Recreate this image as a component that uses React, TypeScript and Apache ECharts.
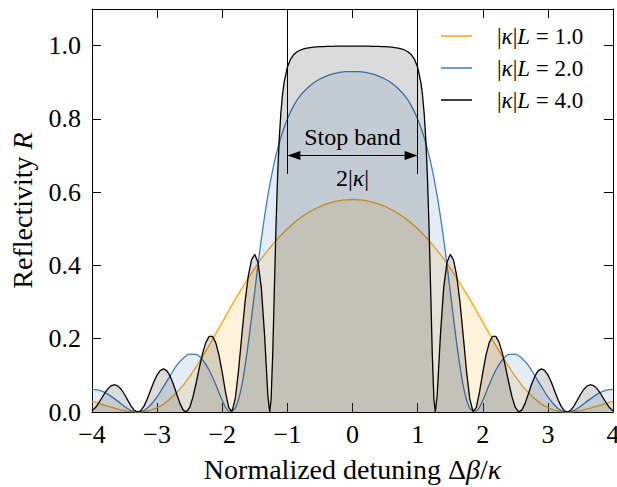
import React, { useEffect, useRef } from 'react';
import * as echarts from 'echarts';

const FONT = '"Liberation Serif", "DejaVu Serif", serif';

const xTicks = [-4, -3, -2, -1, 0, 1, 2, 3, 4];
const yTicks = [0.0, 0.2, 0.4, 0.6, 0.8, 1.0];
const seriesNames = ['|κ|L = 1.0', '|κ|L = 2.0', '|κ|L = 4.0'];
const seriesColors = ['#ffa500', '#3f7fbf', '#000000'];
const stopBandEdges = [-1, 1];

// detuning Δβ/κ for the κL = 1 and κL = 2 curves
const detuningCoarse = [
  -4.0, -3.9, -3.8, -3.7, -3.6, -3.5, -3.4, -3.3, -3.2, -3.1,
  -3.0, -2.9, -2.8, -2.7, -2.6, -2.5, -2.4, -2.3, -2.2, -2.1,
  -2.0, -1.9, -1.8, -1.7, -1.6, -1.5, -1.4, -1.3, -1.2, -1.1,
  -1.0, -0.9, -0.8, -0.7, -0.6, -0.5, -0.4, -0.3, -0.2, -0.1,
  0.0,
  0.1, 0.2, 0.3, 0.4, 0.5, 0.6, 0.7, 0.8, 0.9, 1.0,
  1.1, 1.2, 1.3, 1.4, 1.5, 1.6, 1.7, 1.8, 1.9, 2.0,
  2.1, 2.2, 2.3, 2.4, 2.5, 2.6, 2.7, 2.8, 2.9, 3.0,
  3.1, 3.2, 3.3, 3.4, 3.5, 3.6, 3.7, 3.8, 3.9, 4.0,
];

const reflectivityK1 = [
  0.029, 0.024, 0.018, 0.013, 0.008, 0.004, 0.001, 0.000, 0.001, 0.005,
  0.012, 0.022, 0.036, 0.053, 0.073, 0.097, 0.124, 0.152, 0.182, 0.214,
  0.245, 0.277, 0.308, 0.337, 0.366, 0.393, 0.418, 0.441, 0.463, 0.482,
  0.500, 0.516, 0.530, 0.542, 0.552, 0.561, 0.568, 0.573, 0.577, 0.579,
  0.580,
  0.579, 0.577, 0.573, 0.568, 0.561, 0.552, 0.542, 0.530, 0.516, 0.500,
  0.482, 0.463, 0.441, 0.418, 0.393, 0.366, 0.337, 0.308, 0.277, 0.245,
  0.214, 0.182, 0.152, 0.124, 0.097, 0.073, 0.053, 0.036, 0.022, 0.012,
  0.005, 0.001, 0.000, 0.001, 0.004, 0.008, 0.013, 0.018, 0.024, 0.029,
];

const reflectivityK2 = [
  0.062, 0.060, 0.053, 0.042, 0.029, 0.015, 0.004, 0.000, 0.004, 0.019,
  0.041, 0.070, 0.099, 0.127, 0.147, 0.158, 0.157, 0.142, 0.114, 0.075,
  0.032, 0.003, 0.010, 0.072, 0.188, 0.331, 0.472, 0.590, 0.682, 0.750,
  0.800, 0.837, 0.864, 0.883, 0.898, 0.909, 0.917, 0.923, 0.927, 0.929,
  0.929,
  0.929, 0.927, 0.923, 0.917, 0.909, 0.898, 0.883, 0.864, 0.837, 0.800,
  0.750, 0.682, 0.590, 0.472, 0.331, 0.188, 0.072, 0.010, 0.003, 0.032,
  0.075, 0.114, 0.142, 0.157, 0.158, 0.147, 0.127, 0.099, 0.070, 0.041,
  0.019, 0.004, 0.000, 0.004, 0.015, 0.029, 0.042, 0.053, 0.060, 0.062,
];

// detuning Δβ/κ for the κL = 4 curve
const detuningFine = [
  -4.0, -3.95, -3.9, -3.85, -3.8, -3.75, -3.7, -3.65, -3.6, -3.55,
  -3.5, -3.45, -3.4, -3.35, -3.3, -3.25, -3.2, -3.15, -3.1, -3.05,
  -3.0, -2.95, -2.9, -2.85, -2.8, -2.75, -2.7, -2.65, -2.6, -2.55,
  -2.5, -2.45, -2.4, -2.35, -2.3, -2.25, -2.2, -2.15, -2.1, -2.05,
  -2.0, -1.95, -1.9, -1.85, -1.8, -1.75, -1.7, -1.65, -1.6, -1.55,
  -1.5, -1.45, -1.4, -1.35, -1.3, -1.2716, -1.25, -1.225, -1.2, -1.175,
  -1.15, -1.125, -1.1, -1.075, -1.05, -1.0, -0.95, -0.9, -0.85, -0.8,
  -0.75, -0.7, -0.65, -0.6, -0.55, -0.5, -0.45, -0.4, -0.35, -0.3,
  -0.25, -0.2, -0.15, -0.1, -0.05,
  0.0,
  0.05, 0.1, 0.15, 0.2, 0.25, 0.3, 0.35, 0.4, 0.45, 0.5,
  0.55, 0.6, 0.65, 0.7, 0.75, 0.8, 0.85, 0.9, 0.95, 1.0,
  1.05, 1.075, 1.1, 1.125, 1.15, 1.175, 1.2, 1.225, 1.25, 1.2716,
  1.3, 1.35, 1.4, 1.45, 1.5, 1.55, 1.6, 1.65, 1.7, 1.75,
  1.8, 1.85, 1.9, 1.95, 2.0, 2.05, 2.1, 2.15, 2.2, 2.25,
  2.3, 2.35, 2.4, 2.45, 2.5, 2.55, 2.6, 2.65, 2.7, 2.75,
  2.8, 2.85, 2.9, 2.95, 3.0, 3.05, 3.1, 3.15, 3.2, 3.25,
  3.3, 3.35, 3.4, 3.45, 3.5, 3.55, 3.6, 3.65, 3.7, 3.75,
  3.8, 3.85, 3.9, 3.95, 4.0,
];

const reflectivityK4 = [
  0.0031, 0.0114, 0.0238, 0.0383, 0.0526, 0.0645, 0.0722, 0.0744, 0.0707, 0.0614,
  0.0478, 0.0318, 0.0163, 0.0047, 0.0000, 0.0040, 0.0167, 0.0363, 0.0594, 0.0823,
  0.1013, 0.1138, 0.1177, 0.1123, 0.0977, 0.0756, 0.0492, 0.0236, 0.0052, 0.0003,
  0.0124, 0.0406, 0.0798, 0.1225, 0.1614, 0.1907, 0.2066, 0.2066, 0.1894, 0.1554,
  0.1075, 0.0544, 0.0120, 0.0014, 0.0367, 0.1131, 0.2086, 0.2999, 0.3715, 0.4161,
  0.4301, 0.4078, 0.3389, 0.2097, 0.0449, 0.0000, 0.0342, 0.1579, 0.3334, 0.5057,
  0.6444, 0.7454, 0.8162, 0.8653, 0.8996, 0.9412, 0.9633, 0.9759, 0.9834, 0.9881,
  0.9912, 0.9933, 0.9947, 0.9958, 0.9965, 0.9971, 0.9975, 0.9978, 0.9980, 0.9982,
  0.9984, 0.9985, 0.9986, 0.9986, 0.9986,
  0.9987,
  0.9986, 0.9986, 0.9986, 0.9985, 0.9984, 0.9982, 0.9980, 0.9978, 0.9975, 0.9971,
  0.9965, 0.9958, 0.9947, 0.9933, 0.9912, 0.9881, 0.9834, 0.9759, 0.9633, 0.9412,
  0.8996, 0.8653, 0.8162, 0.7454, 0.6444, 0.5057, 0.3334, 0.1579, 0.0342, 0.0000,
  0.0449, 0.2097, 0.3389, 0.4078, 0.4301, 0.4161, 0.3715, 0.2999, 0.2086, 0.1131,
  0.0367, 0.0014, 0.0120, 0.0544, 0.1075, 0.1554, 0.1894, 0.2066, 0.2066, 0.1907,
  0.1614, 0.1225, 0.0798, 0.0406, 0.0124, 0.0003, 0.0052, 0.0236, 0.0492, 0.0756,
  0.0977, 0.1123, 0.1177, 0.1138, 0.1013, 0.0823, 0.0594, 0.0363, 0.0167, 0.0040,
  0.0000, 0.0047, 0.0163, 0.0318, 0.0478, 0.0614, 0.0707, 0.0744, 0.0722, 0.0645,
  0.0526, 0.0383, 0.0238, 0.0114, 0.0031,
];

const italic = { fontStyle: 'italic', fontFamily: FONT };

function pairs(xs: number[], ys: number[]) {
  return xs.map((x, i) => [x, ys[i]]);
}

function legendText(name: string) {
  // "|κ|L = 1.0" with κ and L italic
  const m = name.match(/^\|κ\|L = (.*)$/);
  return m ? `|{i|κ}|{i|L} = ${m[1]}` : name;
}

function buildOption() {
  const axisCommon = {
    axisLine: { show: true, onZero: false, lineStyle: { color: '#000', width: 1 } },
    axisTick: { show: true, inside: true, length: 9, lineStyle: { color: '#000', width: 1 } },
    splitLine: { show: false },
  };
  const xFmt = (v: number) => (xTicks.includes(v) ? (v < 0 ? '\u2212' + Math.abs(v) : String(v)) : '');
  const yFmt = (v: number) => (yTicks.some((t) => Math.abs(t - v) < 1e-6) ? v.toFixed(1) : '');

  const makeSeries = (idx: number, xs: number[], ys: number[], smooth: number | boolean) => ({
    type: 'line',
    name: seriesNames[idx],
    data: pairs(xs, ys),
    showSymbol: false,
    symbol: 'none',
    smooth,
    xAxisIndex: 0,
    yAxisIndex: 0,
    lineStyle: { color: seriesColors[idx], width: 1.3 },
    itemStyle: { color: seriesColors[idx] },
    areaStyle: { color: echarts.color.modifyAlpha(seriesColors[idx], 0.2), origin: 'start' },
    emphasis: { disabled: true },
    z: 2 + idx,
  });

  const s4: any = makeSeries(2, detuningFine, reflectivityK4, false);
  s4.markLine = {
    silent: true,
    symbol: 'none',
    animation: false,
    lineStyle: { color: '#000', width: 1, type: 'solid' },
    label: { show: false },
    emphasis: { disabled: true },
    data: [
      [{ coord: [stopBandEdges[0], 1.1] }, { coord: [stopBandEdges[0], 0.65] }],
      [{ coord: [stopBandEdges[1], 1.1] }, { coord: [stopBandEdges[1], 0.65] }],
      [
        { coord: [stopBandEdges[0] + 0.1, 0.7], symbol: 'triangle', symbolSize: [9, 13] },
        { coord: [stopBandEdges[1] - 0.1, 0.7], symbol: 'triangle', symbolSize: [9, 13] },
      ],
    ],
  };
  s4.markPoint = {
    silent: true,
    animation: false,
    symbol: 'circle',
    symbolSize: 1,
    itemStyle: { color: 'rgba(0,0,0,0)' },
    label: {
      show: true,
      position: 'inside',
      color: '#000',
      fontFamily: FONT,
      fontSize: 24,
      rich: { i: { ...italic, fontSize: 24, color: '#000' } },
    },
    data: [
      { name: 'Stop band', coord: [0, 0.75], label: { formatter: 'Stop band' } },
      { name: '2|κ|', coord: [0, 0.64], label: { formatter: '2|{i|κ}|' } },
    ],
  };

  return {
    animation: false,
    backgroundColor: '#ffffff',
    textStyle: { fontFamily: FONT },
    grid: { left: 92, right: 4, top: 9, bottom: 75, containLabel: false, outerBoundsMode: 'none' },
    legend: {
      show: true,
      orient: 'vertical',
      left: 441,
      top: 24,
      padding: 0,
      // short line sample followed by empty space before the text
      icon: 'path://M0,0H31V1.6H0ZM51,0.8L51,0.8',
      itemWidth: 51,
      itemHeight: 1.6,
      itemGap: 8,
      data: seriesNames,
      formatter: legendText,
      textStyle: {
        fontFamily: FONT,
        fontSize: 23,
        color: '#000',
        lineHeight: 24,
        rich: {
          i: { ...italic, fontSize: 23, lineHeight: 24, color: '#000' },
        },
      },
      selectedMode: false,
    },
    xAxis: [
      {
        type: 'value',
        min: -4,
        max: 4,
        interval: 1,
        position: 'bottom',
        ...axisCommon,
        axisLabel: { show: true, margin: 9, color: '#000', fontSize: 26, fontFamily: FONT, formatter: xFmt },
        name: 'Normalized detuning Δ{i|β}/{i|κ}',
        nameLocation: 'middle',
        nameGap: 43,
        nameTextStyle: {
          color: '#000',
          fontSize: 28,
          fontFamily: FONT,
          rich: { i: { ...italic, fontSize: 28, color: '#000' } },
        },
      },
      {
        type: 'value',
        min: -4,
        max: 4,
        interval: 1,
        position: 'top',
        ...axisCommon,
        axisLabel: { show: false },
      },
    ],
    yAxis: [
      {
        type: 'value',
        min: 0,
        max: 1.1,
        interval: 0.2,
        position: 'left',
        ...axisCommon,
        axisLabel: { show: true, margin: 11, color: '#000', fontSize: 26, fontFamily: FONT, formatter: yFmt },
        name: 'Reflectivity {i|R}',
        nameLocation: 'middle',
        nameGap: 56,
        nameTextStyle: {
          color: '#000',
          fontSize: 28,
          fontFamily: FONT,
          rich: { i: { ...italic, fontSize: 28, color: '#000' } },
        },
      },
      {
        type: 'value',
        min: 0,
        max: 1.1,
        interval: 0.2,
        position: 'right',
        ...axisCommon,
        axisLabel: { show: false },
      },
    ],
    series: [
      makeSeries(0, detuningCoarse, reflectivityK1, 0.3),
      makeSeries(1, detuningCoarse, reflectivityK2, 0.3),
      s4,
    ],
  };
}

export default function App() {
  const ref = useRef<HTMLDivElement>(null);
  useEffect(() => {
    if (!ref.current) return;
    const chart = echarts.init(ref.current, null, { renderer: 'svg' });
    chart.setOption(buildOption() as any);
    return () => chart.dispose();
  }, []);
  return (
    <div
      ref={ref}
      style={{ position: 'fixed', left: 0, top: 0, width: 617, height: 487, background: '#fff' }}
    />
  );
}
